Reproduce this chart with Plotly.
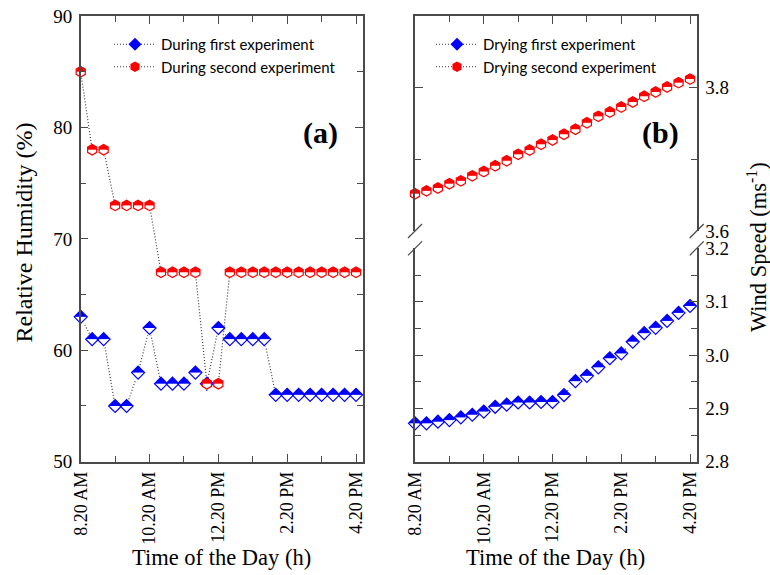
import plotly.graph_objects as go

DAY = "2021-01-01 "
times = ["08:20", "08:40", "09:00", "09:20", "09:40", "10:00", "10:20", "10:40",
         "11:00", "11:20", "11:40", "12:00", "12:20", "12:40", "13:00", "13:20",
         "13:40", "14:00", "14:20", "14:40", "15:00", "15:20", "15:40", "16:00", "16:20"]

rh_first = [63, 61, 61, 55, 55, 58, 62, 57, 57, 57, 58, 57, 62,
            61, 61, 61, 61, 56, 56, 56, 56, 56, 56, 56, 56]
rh_second = [85, 78, 78, 73, 73, 73, 73, 67, 67, 67, 67, 57, 57,
             67, 67, 67, 67, 67, 67, 67, 67, 67, 67, 67, 67]

ws_first = [2.872, 2.872, 2.875, 2.878, 2.883, 2.888, 2.894, 2.903, 2.907, 2.911,
            2.911, 2.912, 2.912, 2.925, 2.951, 2.961, 2.977, 2.994, 3.003, 3.025,
            3.041, 3.051, 3.064, 3.079, 3.092]
ws_second = [3.652, 3.656, 3.660, 3.666, 3.670, 3.677, 3.683, 3.691, 3.698, 3.707,
             3.713, 3.721, 3.727, 3.735, 3.742, 3.751, 3.760, 3.766, 3.773, 3.780,
             3.788, 3.794, 3.801, 3.807, 3.812]

tick_times = ["08:20", "10:20", "12:20", "14:20", "16:20"]
tick_labels = ["8.20 AM", "10.20 AM", "12.20 PM", "2.20 PM", "4.20 PM"]
minor_times = ["09:20", "11:20", "13:20", "15:20"]

names_a = ["During first experiment", "During second experiment"]
names_b = ["Drying first experiment", "Drying second experiment"]

x = [DAY + t for t in times]
x_range = [DAY + "08:20", DAY + "16:31:40"]

BLUE = "#0000ff"
RED = "#ff0000"
AX = "#4a4a4a"
SERIF = "Liberation Serif"

STYLE = {
    "diamond": dict(size=10, band_size=9.6, band_w=7.4),
    "hexagon": dict(size=10.5, band_size=6.8, band_w=6.0),
}

fig = go.Figure()


def add_series(xs, ys, color, kind, name, xa, ya, legend):
    st = STYLE[kind]
    # dotted line + filled marker (legend entry)
    fig.add_trace(go.Scatter(
        x=xs, y=ys, name=name, mode="lines+markers", xaxis=xa, yaxis=ya,
        legend=legend, cliponaxis=False,
        line=dict(color="#3a3a3a", width=1.2, dash="1px,2px"),
        marker=dict(symbol=kind, size=st["size"], color=color,
                    line=dict(width=0)),
        hoverinfo="skip"))
    # white band hiding lower half of each marker
    fig.add_trace(go.Scatter(
        x=xs, y=ys, mode="markers", xaxis=xa, yaxis=ya, showlegend=False,
        cliponaxis=False,
        marker=dict(symbol="line-ew-open", size=st["band_size"], color="white",
                    angle=0, standoff=st["band_w"] / 2,
                    line=dict(width=st["band_w"])),
        hoverinfo="skip"))
    # outline
    fig.add_trace(go.Scatter(
        x=xs, y=ys, mode="markers", xaxis=xa, yaxis=ya, showlegend=False,
        cliponaxis=False,
        marker=dict(symbol=kind + "-open", size=st["size"], color=color,
                    line=dict(width=1.2)),
        hoverinfo="skip"))


add_series(x, rh_first, BLUE, "diamond", names_a[0], "x", "y", "legend")
add_series(x, rh_second, RED, "hexagon", names_a[1], "x", "y", "legend")
add_series(x, ws_first, BLUE, "diamond", names_b[0], "x2", "y2", "legend2")
add_series(x, ws_second, RED, "hexagon", names_b[1], "x3", "y3", "legend2")

W, H = 770, 575


def px(v):
    return v / W


def py(v):
    return 1 - v / H


XDOM_A = [px(80.7), px(362.7)]
XDOM_B = [px(415), px(696.7)]
YDOM = [py(461.7), py(16)]
YDOM_LO = [py(461.7), py(248.4)]
YDOM_HI = [py(231), py(16)]

xtickfont = dict(family=SERIF, size=18, color="black")
ytickfont = dict(family=SERIF, size=19, color="black")
common_x = dict(
    type="date", range=x_range, tickvals=[DAY + t for t in tick_times],
    ticktext=tick_labels, tickangle=-90, ticks="inside", ticklen=8,
    tickwidth=1.2, tickcolor=AX, showline=True, linecolor=AX, linewidth=1.5,
    showgrid=False, zeroline=False, tickfont=xtickfont, ticklabelstandoff=1,
    automargin=False,
    minor=dict(tickvals=[DAY + t for t in minor_times], ticks="inside",
               ticklen=6, tickwidth=1.2, tickcolor=AX, showgrid=False),
)
common_y = dict(
    ticks="inside", ticklen=8, tickwidth=1.2, tickcolor=AX, showline=True,
    linecolor=AX, linewidth=1.5, showgrid=False, zeroline=False,
    tickfont=ytickfont, mirror="ticks", ticklabelstandoff=3, automargin=False,
)

fig.update_layout(
    width=W, height=H, margin=dict(l=0, r=0, t=0, b=0, autoexpand=False),
    paper_bgcolor="white", plot_bgcolor="white",
    xaxis=dict(common_x, domain=XDOM_A, anchor="y", mirror="ticks"),
    yaxis=dict(common_y, domain=YDOM, anchor="x", range=[50, 90], dtick=10,
               minor=dict(dtick=5, ticks="inside", ticklen=6, tickwidth=1.2,
                          tickcolor=AX, showgrid=False)),
    xaxis2=dict(common_x, domain=XDOM_B, anchor="y2"),
    xaxis3=dict(common_x, domain=XDOM_B, anchor="y3", side="top",
                matches="x2", showticklabels=False),
    yaxis2=dict(common_y, domain=YDOM_LO, anchor="x2", side="right",
                range=[2.8, 3.2], dtick=0.1, tickformat=".1f",
                minor=dict(dtick=0.05, ticks="inside", ticklen=6, tickwidth=1.2,
                           tickcolor=AX, showgrid=False)),
    yaxis3=dict(common_y, domain=YDOM_HI, anchor="x3", side="right",
                range=[3.6, 3.9], tick0=3.6, dtick=0.2, tickformat=".1f",
                minor=dict(tick0=3.6, dtick=0.1, ticks="inside", ticklen=6,
                           tickwidth=1.2, tickcolor=AX, showgrid=False)),
    legend=dict(x=px(109), y=py(28), xanchor="left", yanchor="top",
                bgcolor="rgba(0,0,0,0)", font=dict(family="Lato", size=15, color="black"),
                itemwidth=42, tracegroupgap=0),
    legend2=dict(x=px(431), y=py(28), xanchor="left", yanchor="top",
                 bgcolor="rgba(0,0,0,0)", font=dict(family="Lato", size=15, color="black"),
                 itemwidth=42, tracegroupgap=0),
    showlegend=True,
)

# break marks on the (b) panel axes
for xa in (0, 1):
    for yref, yanc in (("y2 domain", 1), ("y3 domain", 0)):
        fig.add_shape(type="line", xref="x2 domain", yref=yref,
                      xsizemode="pixel", ysizemode="pixel", xanchor=xa,
                      yanchor=yanc, x0=-7, x1=7, y0=-7, y1=7,
                      line=dict(color=AX, width=1.3))

fig.add_annotation(text="Relative Humidity (%)", xref="paper", yref="paper",
                   x=px(23), y=py(232.5), textangle=-90, showarrow=False,
                   font=dict(family=SERIF, size=24, color="black"),
                   xanchor="center", yanchor="middle")
fig.add_annotation(text="Wind Speed (ms<sup>-1</sup>)", xref="paper", yref="paper",
                   x=px(757), y=py(247), textangle=-90, showarrow=False,
                   font=dict(family=SERIF, size=22.5, color="black"),
                   xanchor="center", yanchor="middle")
for cx in (221.7, 555.8):
    fig.add_annotation(text="Time of the Day (h)", xref="paper", yref="paper",
                       x=px(cx), y=py(557), showarrow=False,
                       font=dict(family=SERIF, size=22.5, color="black"),
                       xanchor="center", yanchor="middle")
for lab, cx in (("(a)", 320), ("(b)", 660)):
    fig.add_annotation(text="<b>%s</b>" % lab, xref="paper", yref="paper",
                       x=px(cx), y=py(133), showarrow=False,
                       font=dict(family=SERIF, size=30, color="black"),
                       xanchor="center", yanchor="middle")

fig.write_html("out.html", config={"displayModeBar": False},
               post_script="document.body.style.margin='0px';"
                           "document.body.style.overflow='hidden';")
